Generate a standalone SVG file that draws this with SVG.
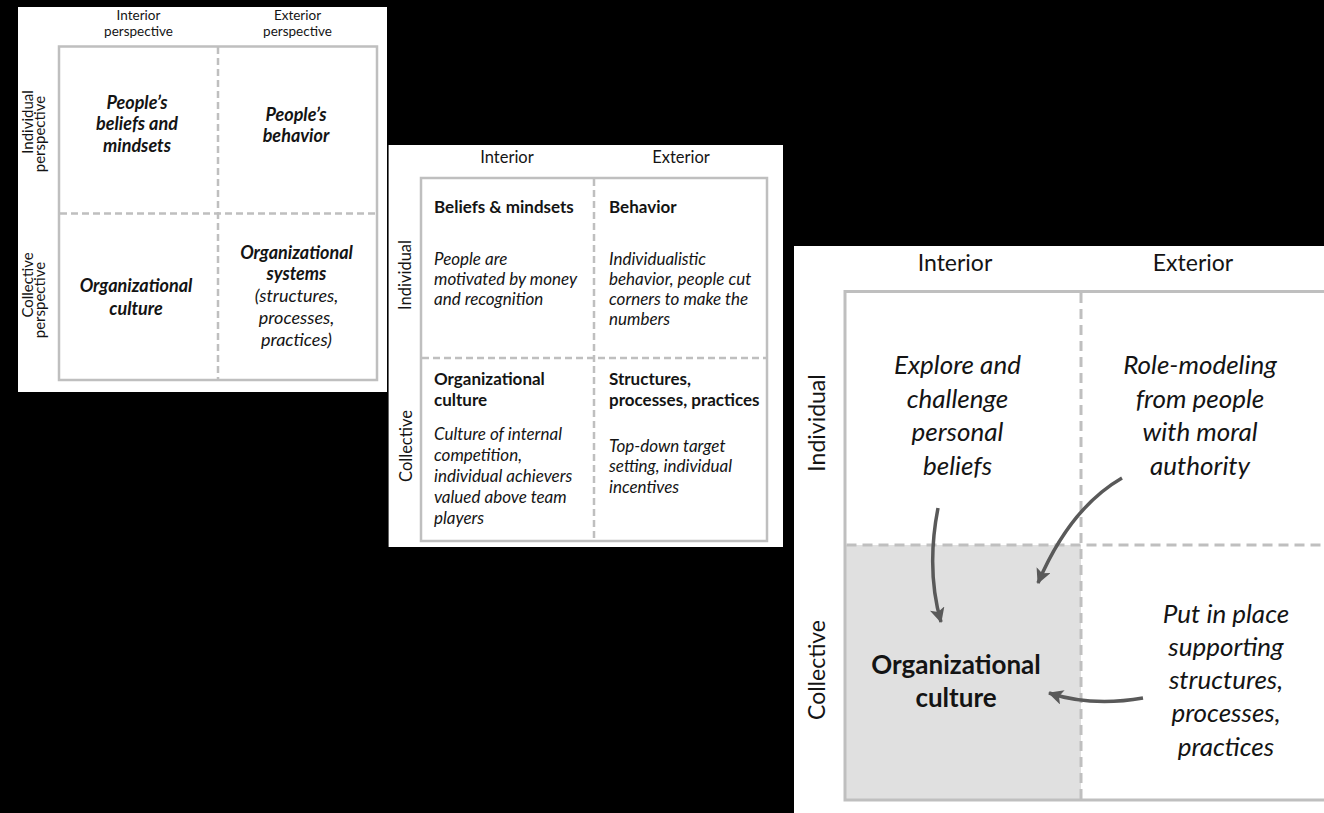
<svg xmlns="http://www.w3.org/2000/svg" width="1324" height="813" viewBox="0 0 1324 813">
<defs>
<style>
.t{font-family:Lato,"Open Sans","Liberation Sans",sans-serif;fill:#141414}
.m{text-anchor:middle}
.b{font-weight:bold}
.i{font-style:italic}
.bi{font-weight:bold;font-style:italic}
.box{fill:none;stroke:#bfbfbf}
.dash1{fill:none;stroke:#bfbfbf;stroke-width:2.5;stroke-dasharray:7 4}
.dash3{fill:none;stroke:#bfbfbf;stroke-width:3;stroke-dasharray:10 6}
.arrow{fill:none;stroke:#595959;stroke-width:3.5;marker-end:url(#ah)}
.p1top{font-size:13.5px}
.p1h{font-size:15px}
.p1c{font-size:18px}
.p2h{font-size:16.5px}
.p2{font-size:17px}
.p3h{font-size:23px}
.p3c{font-size:26px}
</style>
<marker id="ah" viewBox="0 0 15 15" refX="14" refY="7.5" markerWidth="15" markerHeight="15" markerUnits="userSpaceOnUse" orient="auto">
<path d="M0,0 L15,7.5 L0,15 L3.5,7.5 z" fill="#595959"/>
</marker>
</defs>
<rect width="1324" height="813" fill="#000"/>

<!-- Panel 1 -->
<g id="panel1">
<rect x="18" y="7" width="369" height="385" fill="#fff"/>
<rect class="box" x="59" y="46.5" width="318" height="333.5" stroke-width="2.5"/>
<line class="dash1" x1="218" y1="47" x2="218" y2="380"/>
<line class="dash1" x1="60" y1="213.5" x2="376" y2="213.5"/>
<text class="t m p1top" x="138.5" y="19.5">Interior</text>
<text class="t m p1top" x="138.5" y="36">perspective</text>
<text class="t m p1top" x="297.5" y="19.5">Exterior</text>
<text class="t m p1top" x="297.5" y="36">perspective</text>
<text class="t m p1h" transform="translate(33,122) rotate(-90)">Individual</text>
<text class="t m p1h" transform="translate(45,134) rotate(-90)">perspective</text>
<text class="t m p1h" transform="translate(33,285) rotate(-90)">Collective</text>
<text class="t m p1h" transform="translate(45,300) rotate(-90)">perspective</text>
</g>
<g id="p1-beliefs">
<text class="t m p1c bi" x="137" y="108.5">People’s</text>
<text class="t m p1c bi" x="137" y="130">beliefs and</text>
<text class="t m p1c bi" x="137" y="151.5">mindsets</text>
</g>
<g id="p1-behavior">
<text class="t m p1c bi" x="296" y="120.5">People’s</text>
<text class="t m p1c bi" x="296" y="141.5">behavior</text>
</g>
<g id="p1-culture">
<text class="t m p1c bi" x="136" y="292">Organizational</text>
<text class="t m p1c bi" x="136" y="314.5">culture</text>
</g>
<g id="p1-systems">
<text class="t m p1c bi" x="296.5" y="258.5">Organizational</text>
<text class="t m p1c bi" x="296.5" y="280">systems</text>
<text class="t m p1c i" x="296.5" y="302">(structures,</text>
<text class="t m p1c i" x="296.5" y="324">processes,</text>
<text class="t m p1c i" x="296.5" y="346">practices)</text>
</g>

<!-- Panel 2 -->
<g id="panel2">
<rect x="388" y="145" width="395" height="402" fill="#fff"/>
<line x1="388.5" y1="145" x2="388.5" y2="547" stroke="#666" stroke-width="1"/>
<rect class="box" x="421" y="178" width="346" height="363" stroke-width="2.5"/>
<line class="dash1" x1="594" y1="179" x2="594" y2="541"/>
<line class="dash1" x1="422" y1="358" x2="766" y2="358"/>
<text class="t m p2h" x="507" y="162.5">Interior</text>
<text class="t m p2h" x="681" y="162.5">Exterior</text>
<text class="t m p2h" transform="translate(411,275) rotate(-90)">Individual</text>
<text class="t m p2h" transform="translate(412,446) rotate(-90)">Collective</text>
</g>
<g id="p2-beliefs">
<text class="t p2 b" x="434" y="212.5">Beliefs &amp; mindsets</text>
<text class="t p2 i" x="434" y="265">People are</text>
<text class="t p2 i" x="434" y="285">motivated by money</text>
<text class="t p2 i" x="434" y="305">and recognition</text>
</g>
<g id="p2-behavior">
<text class="t p2 b" x="609" y="212.5">Behavior</text>
<text class="t p2 i" x="609" y="265">Individualistic</text>
<text class="t p2 i" x="609" y="285">behavior, people cut</text>
<text class="t p2 i" x="609" y="305">corners to make the</text>
<text class="t p2 i" x="609" y="325">numbers</text>
</g>
<g id="p2-culture">
<text class="t p2 b" x="434" y="385">Organizational</text>
<text class="t p2 b" x="434" y="406">culture</text>
<text class="t p2 i" x="434" y="440">Culture of internal</text>
<text class="t p2 i" x="434" y="461">competition,</text>
<text class="t p2 i" x="434" y="482">individual achievers</text>
<text class="t p2 i" x="434" y="503">valued above team</text>
<text class="t p2 i" x="434" y="524">players</text>
</g>
<g id="p2-structures">
<text class="t p2 b" x="609" y="385">Structures,</text>
<text class="t p2 b" x="609" y="406">processes, practices</text>
<text class="t p2 i" x="609" y="451.5">Top-down target</text>
<text class="t p2 i" x="609" y="472">setting, individual</text>
<text class="t p2 i" x="609" y="493">incentives</text>
</g>

<!-- Panel 3 -->
<g id="panel3">
<rect x="794" y="246" width="530" height="567" fill="#fff"/>
<rect x="845" y="545" width="236" height="255" fill="#e0e0e0"/>
<path class="box" d="M1324,291.5 H845 V800 H1324" stroke-width="3"/>
<line class="dash3" x1="1081" y1="293" x2="1081" y2="799"/>
<line class="dash3" x1="846.5" y1="545" x2="1324" y2="545"/>
<text class="t m p3h" x="955" y="270.5">Interior</text>
<text class="t m p3h" x="1193" y="270.5">Exterior</text>
<text class="t m p3h" transform="translate(825,423) rotate(-90)">Individual</text>
<text class="t m p3h" transform="translate(825,670) rotate(-90)">Collective</text>
</g>
<g id="p3-explore">
<text class="t m p3c i" x="957.5" y="374">Explore and</text>
<text class="t m p3c i" x="957.5" y="407.5">challenge</text>
<text class="t m p3c i" x="957.5" y="441">personal</text>
<text class="t m p3c i" x="957.5" y="474.5">beliefs</text>
</g>
<g id="p3-rolemodel">
<text class="t m p3c i" x="1200" y="374">Role-modeling</text>
<text class="t m p3c i" x="1200" y="407.5">from people</text>
<text class="t m p3c i" x="1200" y="441">with moral</text>
<text class="t m p3c i" x="1200" y="474.5">authority</text>
</g>
<g id="p3-structures">
<text class="t m p3c i" x="1226" y="622.5">Put in place</text>
<text class="t m p3c i" x="1226" y="655.8">supporting</text>
<text class="t m p3c i" x="1226" y="689">structures,</text>
<text class="t m p3c i" x="1226" y="722.3">processes,</text>
<text class="t m p3c i" x="1226" y="755.6">practices</text>
</g>
<g id="p3-culture">
<text class="t m p3c b" x="956" y="674">Organizational</text>
<text class="t m p3c b" x="956" y="706.5">culture</text>
</g>

<g id="connectors">
<path class="arrow" d="M938,508 Q926,570 941,622"/>
<path class="arrow" d="M1122,478 Q1070,508 1038,583"/>
<path class="arrow" d="M1143,698 Q1092,707 1049,693"/>
</g>
</svg>
